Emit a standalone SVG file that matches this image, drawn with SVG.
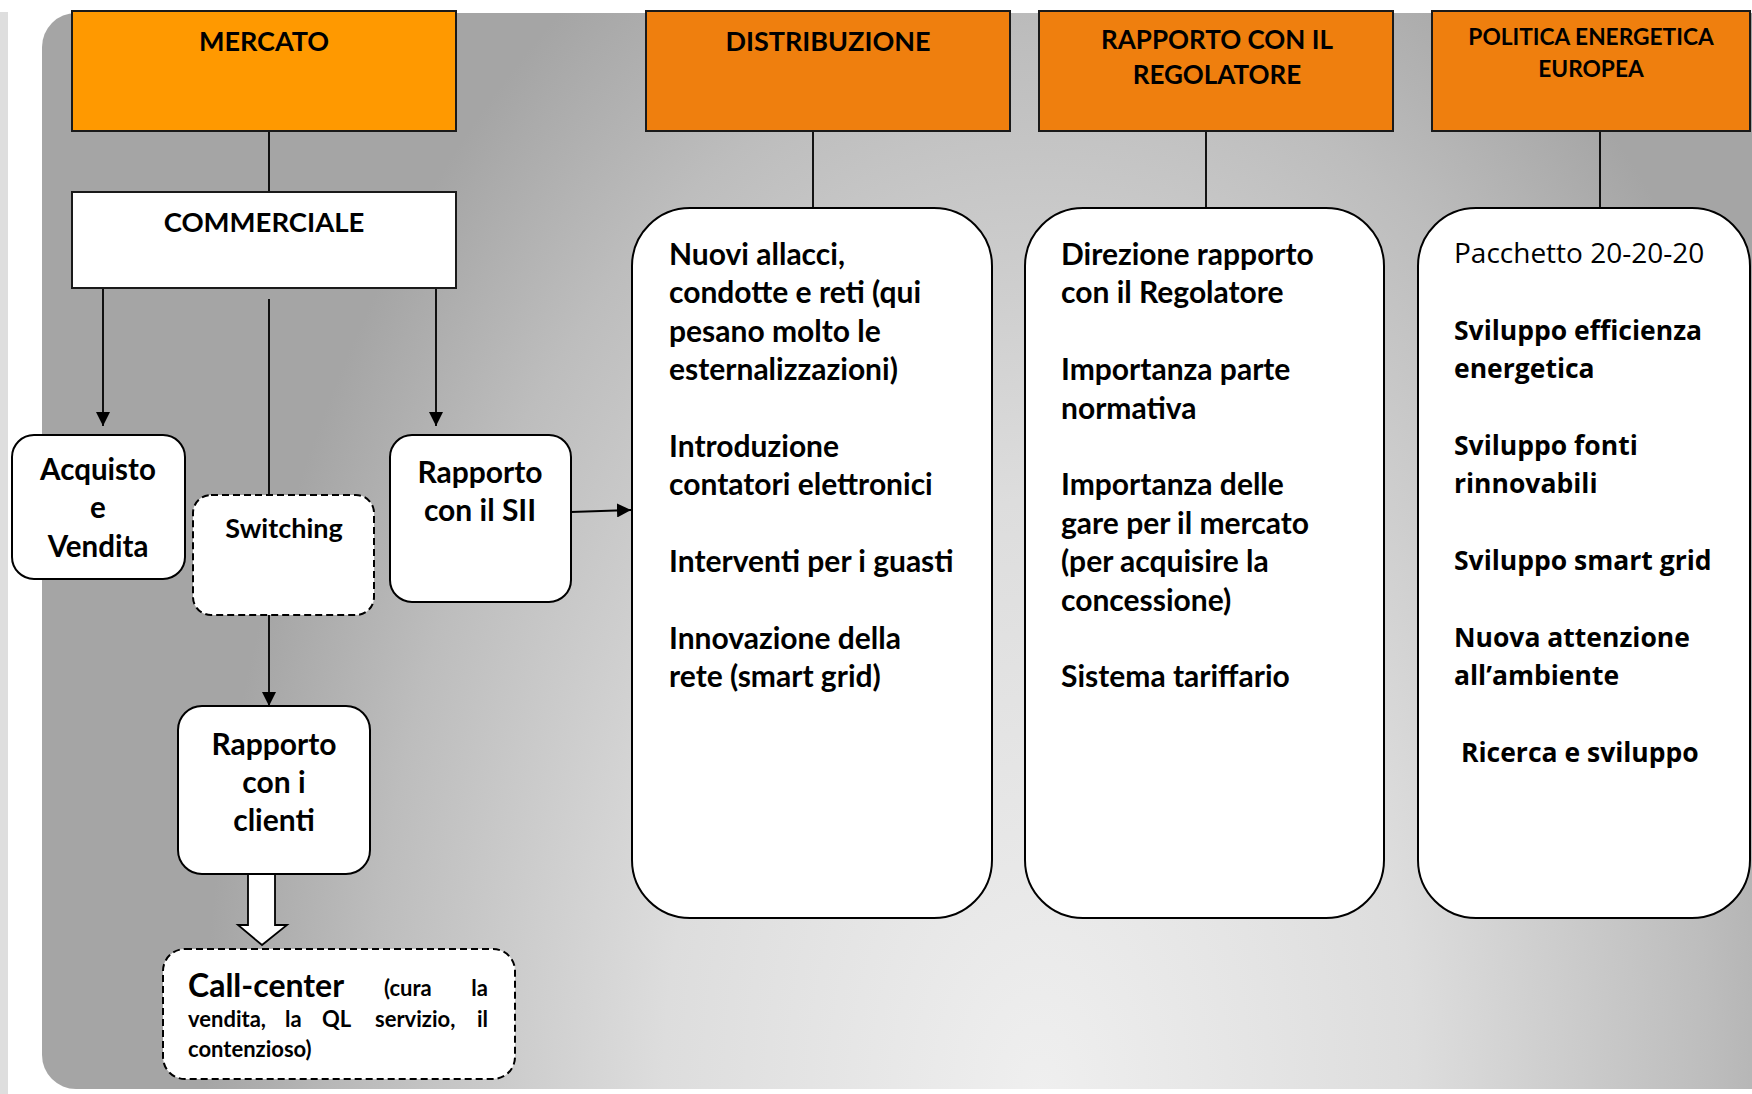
<svg xmlns="http://www.w3.org/2000/svg" width="1752" height="1094" viewBox="0 0 1752 1094">
<defs>
  <radialGradient id="bg" gradientUnits="userSpaceOnUse" cx="1040" cy="1094" r="1100" gradientTransform="translate(1040 1094) scale(0.76 1.2) translate(-1040 -1094)">
    <stop offset="0" stop-color="#efefef"/>
    <stop offset="0.45" stop-color="#dddddd"/>
    <stop offset="0.8" stop-color="#bdbdbd"/>
    <stop offset="1" stop-color="#a5a5a5"/>
  </radialGradient>
  <marker id="arr" viewBox="0 0 14 14" refX="14" refY="7" markerWidth="14" markerHeight="14" markerUnits="userSpaceOnUse" orient="auto">
    <path d="M0,0 L14,7 L0,14 Z" fill="#000"/>
  </marker>
  <style>
    .hdr { stroke:#1a1a1a; stroke-width:2; }
    .t { font-family:Lato, "Liberation Sans", sans-serif; font-weight:bold; fill:#000; }
    .o { font-family:"Open Sans", "DejaVu Sans", sans-serif; fill:#000; }
    .box { fill:#fff; stroke:#000; stroke-width:2; }
    .dash { fill:#fff; stroke:#000; stroke-width:2; stroke-dasharray:7 4; }
    .ln { stroke:#000; stroke-width:1.8; fill:none; }
  </style>
</defs>
<rect x="0" y="0" width="1752" height="1094" fill="#fff"/>
<rect x="0" y="12" width="8" height="1082" fill="#dedede"/>
<rect x="42" y="13" width="1760" height="1076" rx="34" ry="34" fill="url(#bg)"/>

<g id="connectors">
  <line class="ln" x1="269" y1="131" x2="269" y2="192"/>
  <line class="ln" x1="813" y1="131" x2="813" y2="208"/>
  <line class="ln" x1="1206" y1="131" x2="1206" y2="208"/>
  <line class="ln" x1="1600" y1="131" x2="1600" y2="208"/>
  <line class="ln" x1="103" y1="284" x2="103" y2="426" marker-end="url(#arr)"/>
  <line class="ln" x1="269" y1="299" x2="269" y2="495"/>
  <line class="ln" x1="436" y1="284" x2="436" y2="426" marker-end="url(#arr)"/>
  <line class="ln" x1="571" y1="512" x2="631" y2="510" marker-end="url(#arr)"/>
  <line class="ln" x1="269" y1="615" x2="269" y2="706" marker-end="url(#arr)"/>
  <path d="M248,874 L275,874 L275,925 L287,925 L262,945 L238,925 L248,925 Z" fill="#fff" stroke="#000" stroke-width="1.8"/>
</g>

<g id="mercato">
  <rect class="hdr" x="72" y="11" width="384" height="120" fill="#ff9900"/>
  <text class="t" x="264" y="51" font-size="27" text-anchor="middle">MERCATO</text>
</g>
<g id="distribuzione">
  <rect class="hdr" x="646" y="11" width="364" height="120" fill="#ef7f0e"/>
  <text class="t" x="828" y="51" font-size="27" text-anchor="middle">DISTRIBUZIONE</text>
</g>
<g id="regolatore">
  <rect class="hdr" x="1039" y="11" width="354" height="120" fill="#ef7f0e"/>
  <text class="t" x="1217" y="49" font-size="26" text-anchor="middle">RAPPORTO CON IL</text>
  <text class="t" x="1217" y="84" font-size="26" text-anchor="middle">REGOLATORE</text>
</g>
<g id="politica">
  <rect class="hdr" x="1432" y="11" width="318" height="120" fill="#ef7f0e"/>
  <text class="t" x="1591" y="45" font-size="22.7" text-anchor="middle">POLITICA ENERGETICA</text>
  <text class="t" x="1591" y="77" font-size="22.7" text-anchor="middle">EUROPEA</text>
</g>

<g id="commerciale">
  <rect x="72" y="192" width="384" height="96" fill="#fff" stroke="#1a1a1a" stroke-width="2"/>
  <text class="t" x="264" y="232" font-size="27.5" text-anchor="middle">COMMERCIALE</text>
</g>

<g id="acquisto">
  <rect class="box" x="12" y="435" width="173" height="144" rx="22"/>
  <text class="t" x="98" y="480" font-size="29.5" text-anchor="middle">Acquisto</text>
  <text class="t" x="98" y="518" font-size="29.5" text-anchor="middle">e</text>
  <text class="t" x="98" y="557" font-size="29.5" text-anchor="middle">Vendita</text>
</g>
<g id="switching">
  <rect class="dash" x="193" y="495" width="181" height="120" rx="18"/>
  <text class="t" x="284" y="538" font-size="27" text-anchor="middle">Switching</text>
</g>
<g id="sii">
  <rect class="box" x="390" y="435" width="181" height="167" rx="22"/>
  <text class="t" x="480" y="483" font-size="30" text-anchor="middle">Rapporto</text>
  <text class="t" x="480" y="521" font-size="30" text-anchor="middle">con il SII</text>
</g>
<g id="clienti">
  <rect class="box" x="178" y="706" width="192" height="168" rx="24"/>
  <text class="t" x="274" y="755" font-size="30" text-anchor="middle">Rapporto</text>
  <text class="t" x="274" y="793" font-size="30" text-anchor="middle">con i</text>
  <text class="t" x="274" y="831" font-size="30" text-anchor="middle">clienti</text>
</g>
<g id="callcenter">
  <rect class="dash" x="163" y="949" width="352" height="130" rx="22"/>
  <text class="t" x="188" y="997" font-size="32">Call-center</text>
  <text class="t" x="384" y="996" font-size="22">(cura</text>
  <text class="t" x="488" y="996" font-size="22" text-anchor="end">la</text>
  <text class="t" y="1027" font-size="22"><tspan x="188">vendita,</tspan><tspan x="285">la</tspan><tspan x="322">QL</tspan><tspan x="375">servizio,</tspan></text>
  <text class="t" x="488" y="1027" font-size="22" text-anchor="end">il</text>
  <text class="t" x="188" y="1057" font-size="22">contenzioso)</text>
</g>

<g id="distribuzione-attivita">
  <rect class="box" x="632" y="208" width="360" height="710" rx="58"/>
  <text class="t" font-size="30">
    <tspan x="669" y="265">Nuovi allacci,</tspan>
    <tspan x="669" y="303">condotte e reti (qui</tspan>
    <tspan x="669" y="342">pesano molto le</tspan>
    <tspan x="669" y="380">esternalizzazioni)</tspan>
    <tspan x="669" y="457">Introduzione</tspan>
    <tspan x="669" y="495">contatori elettronici</tspan>
    <tspan x="669" y="572">Interventi per i guasti</tspan>
    <tspan x="669" y="649">Innovazione della</tspan>
    <tspan x="669" y="687">rete (smart grid)</tspan>
  </text>
</g>
<g id="regolatore-attivita">
  <rect class="box" x="1025" y="208" width="359" height="710" rx="58"/>
  <text class="t" font-size="30">
    <tspan x="1061" y="265">Direzione rapporto</tspan>
    <tspan x="1061" y="303">con il Regolatore</tspan>
    <tspan x="1061" y="380">Importanza parte</tspan>
    <tspan x="1061" y="419">normativa</tspan>
    <tspan x="1061" y="495">Importanza delle</tspan>
    <tspan x="1061" y="534">gare per il mercato</tspan>
    <tspan x="1061" y="572">(per acquisire la</tspan>
    <tspan x="1061" y="611">concessione)</tspan>
    <tspan x="1061" y="687">Sistema tariffario</tspan>
  </text>
</g>
<g id="politica-attivita">
  <rect class="box" x="1418" y="208" width="332" height="710" rx="58"/>
  <text class="o" x="1454" y="263" font-size="28">Pacchetto 20-20-20</text>
  <text class="o" font-size="26.5" font-weight="bold">
    <tspan x="1454" y="340">Sviluppo efficienza</tspan>
    <tspan x="1454" y="378">energetica</tspan>
    <tspan x="1454" y="455">Sviluppo fonti</tspan>
    <tspan x="1454" y="493">rinnovabili</tspan>
    <tspan x="1454" y="570">Sviluppo smart grid</tspan>
    <tspan x="1454" y="647">Nuova attenzione</tspan>
    <tspan x="1454" y="685">all’ambiente</tspan>
    <tspan x="1461" y="762">Ricerca e sviluppo</tspan>
  </text>
</g>
</svg>
